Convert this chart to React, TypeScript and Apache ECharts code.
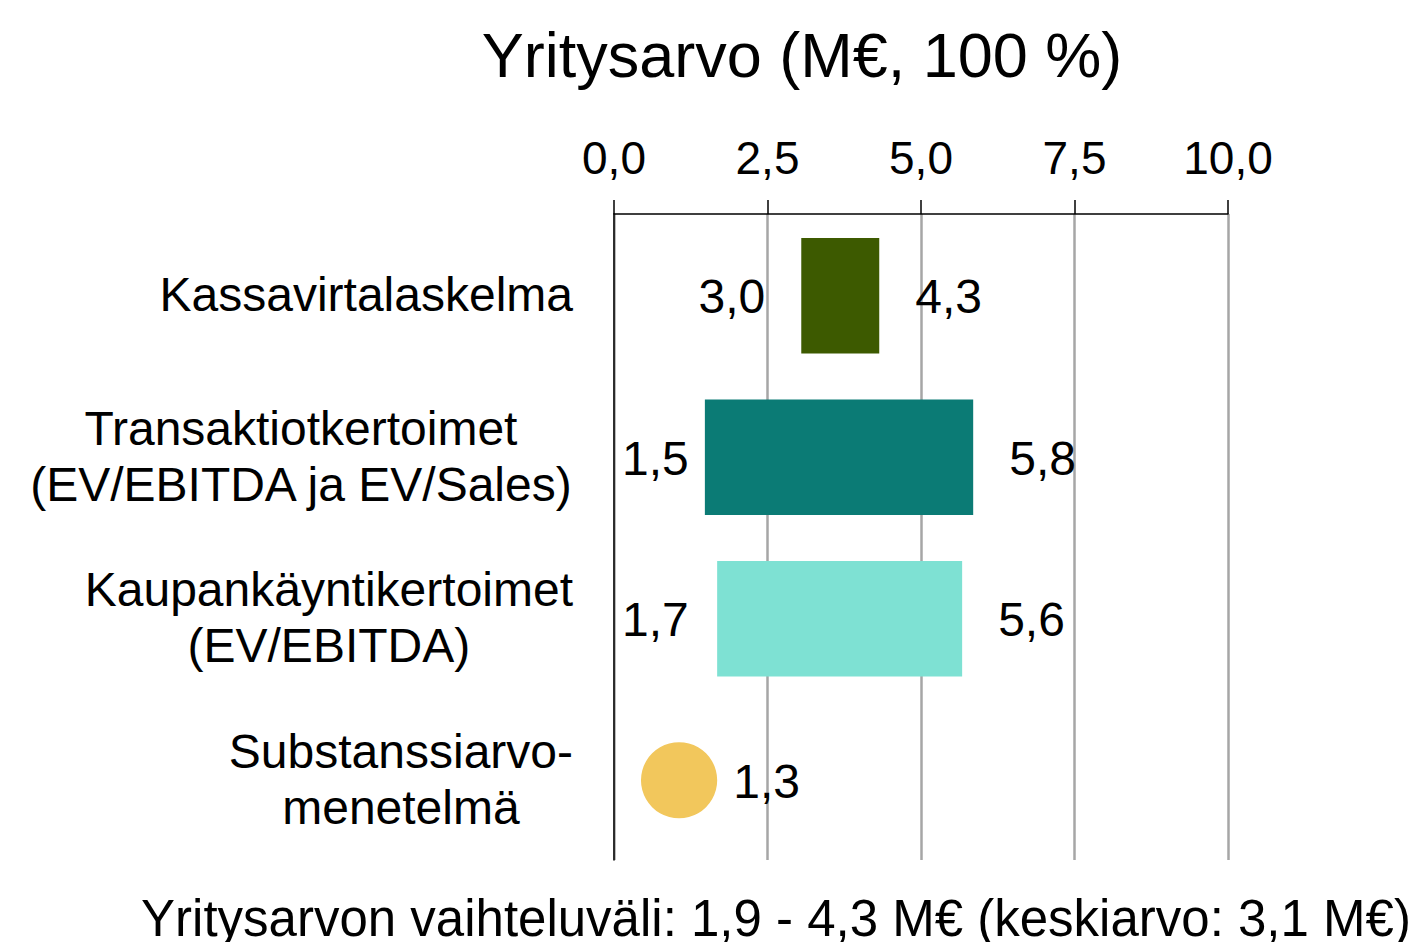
import React, { useEffect, useRef } from "react";
import * as echarts from "echarts";

const categories = [
  "Kassavirtalaskelma",
  "Transaktiotkertoimet\n(EV/EBITDA ja EV/Sales)",
  "Kaupankäyntikertoimet\n(EV/EBITDA)",
  "Substanssiarvo-\nmenetelmä",
];
const rangeLow = [3.05, 1.48, 1.68];
const rangeHigh = [4.32, 5.85, 5.67];
const lowLabels = ["3,0", "1,5", "1,7"];
const highLabels = ["4,3", "5,8", "5,6"];
const barColors = ["#3d5a00", "#0b7b75", "#7ee1d3"];
const dotValue = [1.06];
const dotLabels = ["1,3"];
const dotColor = "#f2c75c";
const tickValues = [0, 2.5, 5, 7.5, 10];
const tickLabels = ["0,0", "2,5", "5,0", "7,5", "10,0"];
const titleText = "Yritysarvo (M€, 100 %)";
const footerText = "Yritysarvon vaihteluväli: 1,9 - 4,3 M€ (keskiarvo: 3,1 M€)";

const FONT = '"Liberation Sans", Arial, sans-serif';

function measure(text: string, size: number): number {
  const c = document.createElement("canvas").getContext("2d");
  if (!c) return size * text.length * 0.5;
  c.font = `${size}px ${FONT}`;
  return c.measureText(text).width;
}

export default function App() {
  const ref = useRef<HTMLDivElement>(null);
  useEffect(() => {
    if (!ref.current) return;
    const chart = echarts.init(ref.current, undefined, { renderer: "svg" });
    const labelSize = 48;
    const barData = rangeLow.map((l, i) => [i, l, rangeHigh[i]]);
    const dotData = dotValue.map((v, i) => [rangeLow.length + i, v]);

    chart.setOption({
      animation: false,
      backgroundColor: "#ffffff",
      grid: { left: 614, top: 214, width: 614, height: 646, containLabel: false },
      xAxis: {
        type: "value",
        position: "top",
        min: 0,
        max: 10,
        interval: 2.5,
        axisLine: { show: true, lineStyle: { color: "#000", width: 1.5 } },
        axisTick: { show: true, inside: false, length: 14, lineStyle: { color: "#000", width: 1.5 } },
        splitLine: { show: true, lineStyle: { color: "#a6a6a6", width: 2.5 } },
        axisLabel: {
          margin: 33,
          fontSize: 46,
          fontFamily: FONT,
          color: "#000",
          formatter: (v: number) => {
            const idx = tickValues.indexOf(v);
            return idx >= 0 ? tickLabels[idx] : "";
          },
        },
      },
      yAxis: {
        type: "category",
        inverse: true,
        data: categories,
        axisLine: { show: true, lineStyle: { color: "#000", width: 1.5 } },
        axisTick: { show: false },
        splitLine: { show: false },
        axisLabel: {
          margin: 41,
          align: "right",
          color: "#000",
          formatter: (v: string) =>
            v
              .split("\n")
              .map((l) => `{c|${l}}`)
              .join("\n"),
          rich: {
            c: { align: "center", fontSize: 48, fontFamily: FONT, color: "#000", lineHeight: 56 },
          },
        },
      },
      series: [
        {
          type: "custom",
          data: barData,
          encode: { x: [1, 2], y: 0 },
          renderItem: (params: any, api: any) => {
            const i = params.dataIndex;
            const cat = api.value(0);
            const p0 = api.coord([api.value(1), cat]);
            const p1 = api.coord([api.value(2), cat]);
            const band = api.size([0, 1])[1];
            const h = band * 0.714;
            const axisX = api.coord([0, cat])[0];
            const w = measure(lowLabels[i], labelSize);
            let lx = p0[0] - 36;
            let lAlign = "right";
            if (lx - w < axisX + 8) {
              lx = axisX + 8;
              lAlign = "left";
            }
            return {
              type: "group",
              children: [
                {
                  type: "rect",
                  shape: { x: p0[0], y: p0[1] - h / 2 + 1, width: p1[0] - p0[0], height: h },
                  style: { fill: barColors[i] },
                },
                {
                  type: "text",
                  style: {
                    text: lowLabels[i],
                    x: lx,
                    y: p0[1] + 2,
                    align: lAlign,
                    verticalAlign: "middle",
                    fontSize: labelSize,
                    fontFamily: FONT,
                    fill: "#000",
                  },
                },
                {
                  type: "text",
                  style: {
                    text: highLabels[i],
                    x: p1[0] + 36,
                    y: p1[1] + 2,
                    align: "left",
                    verticalAlign: "middle",
                    fontSize: labelSize,
                    fontFamily: FONT,
                    fill: "#000",
                  },
                },
              ],
            };
          },
        },
        {
          type: "custom",
          data: dotData,
          encode: { x: 1, y: 0 },
          renderItem: (params: any, api: any) => {
            const i = params.dataIndex;
            const cat = api.value(0);
            const p = api.coord([api.value(1), cat]);
            const band = api.size([0, 1])[1];
            const r = band * 0.236;
            return {
              type: "group",
              children: [
                { type: "circle", shape: { cx: p[0], cy: p[1] + 1, r }, style: { fill: dotColor } },
                {
                  type: "text",
                  style: {
                    text: dotLabels[i],
                    x: p[0] + r + 16,
                    y: p[1] + 2,
                    align: "left",
                    verticalAlign: "middle",
                    fontSize: labelSize,
                    fontFamily: FONT,
                    fill: "#000",
                  },
                },
              ],
            };
          },
        },
      ],
      graphic: [
        {
          type: "text",
          style: {
            text: titleText,
            x: 802,
            y: 55,
            align: "center",
            verticalAlign: "middle",
            fontSize: 63,
            fontFamily: FONT,
            fill: "#000",
          },
        },
        {
          type: "text",
          style: {
            text: footerText,
            x: 776,
            y: 918,
            align: "center",
            verticalAlign: "middle",
            fontSize: 51,
            fontFamily: FONT,
            fill: "#000",
          },
        },
      ],
    });
    return () => chart.dispose();
  }, []);
  return (
    <div
      ref={ref}
      style={{ position: "fixed", left: 0, top: 0, width: 1419, height: 942 }}
    />
  );
}
